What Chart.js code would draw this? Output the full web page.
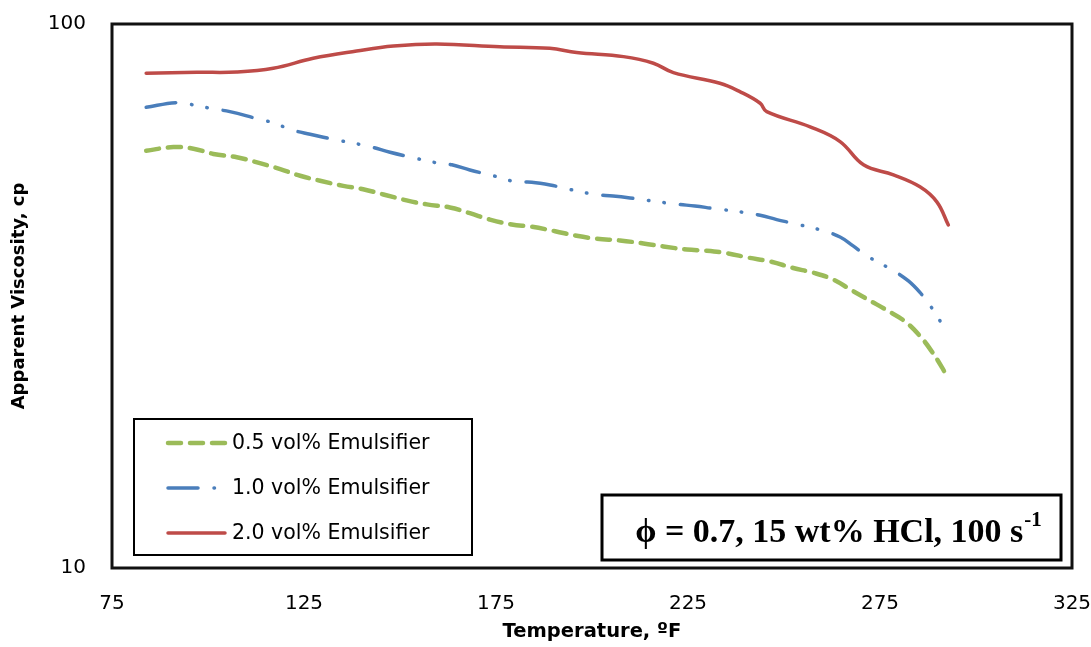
<!DOCTYPE html>
<html>
<head>
  <meta charset="utf-8">
  <title>Apparent Viscosity vs Temperature</title>
  <script src="https://cdnjs.cloudflare.com/ajax/libs/Chart.js/4.3.0/chart.umd.min.js"></script>
  <style>
    html, body { margin: 0; padding: 0; background: #fff; }
    canvas { display: block; }
  </style>
</head>
<body>
  <canvas id="chart" width="1091" height="647"></canvas>
  <script>
    // values
    var seriesNames = ['0.5 vol% Emulsifier', '1.0 vol% Emulsifier', '2.0 vol% Emulsifier'];

    var tempLow = [83.9, 91, 96.2, 101.4, 107.5, 113.5, 118.8, 124, 129.2, 135.2, 140.4, 145.7, 151.7, 157, 163, 168.2, 173.4, 179.1, 184.3, 190.4, 196, 201.2, 207.3, 213.4, 218.6, 224.7, 229.9, 235.1, 240.7, 246.4, 252.4, 257.6, 262.8, 267.6, 272.4, 276.7, 281.5, 285.4, 288.5, 291.1, 292.4];
    var viscLow = [58.5, 59.4, 59.0, 57.7, 56.9, 55.5, 54.1, 52.6, 51.5, 50.4, 49.7, 48.6, 47.4, 46.6, 46.0, 44.9, 43.7, 42.8, 42.4, 41.6, 40.8, 40.3, 40.0, 39.5, 39.0, 38.5, 38.3, 37.9, 37.2, 36.6, 35.6, 34.9, 33.9, 32.4, 31.0, 29.8, 28.4, 26.7, 25.0, 23.4, 22.5];

    var tempMid = [83.9, 91.8, 96.2, 101, 105.7, 112.7, 117.4, 121.4, 126.6, 133.5, 138.3, 142.6, 147.4, 154.3, 158.7, 163.5, 168.2, 175.2, 180, 184.3, 189.1, 195.1, 200.8, 205.5, 209.9, 217.3, 222.5, 226.8, 231.6, 239, 243.8, 248.1, 252.4, 260.2, 264.6, 268, 271.5, 278.5, 282.4, 285.4, 288, 290.2, 291.9];
    var viscMid = [70.3, 71.7, 71.0, 69.9, 69.0, 67.0, 65.7, 64.0, 62.7, 61.2, 60.3, 59.4, 58.1, 56.6, 55.7, 55.1, 53.9, 52.4, 51.3, 51.2, 50.6, 49.5, 48.6, 48.3, 47.9, 47.1, 46.6, 46.3, 45.8, 45.1, 44.5, 43.7, 43.0, 41.7, 40.6, 39.1, 37.5, 35.2, 33.7, 32.1, 30.4, 28.8, 27.4];

    var tempHigh = [83.9, 97.1, 107.5, 117, 127.4, 138.7, 148.3, 159.6, 176, 189, 196, 208.2, 216, 221.2, 233.3, 238.5, 243.8, 245.5, 256.8, 264.6, 270.7, 278.5, 285.4, 289.8, 292.8];
    var viscHigh = [81.2, 81.5, 81.6, 82.9, 86.5, 89.2, 91.1, 91.9, 90.8, 90.2, 88.6, 87.1, 84.7, 81.4, 77.8, 75.1, 71.5, 69.0, 64.7, 60.8, 55.1, 52.8, 50.2, 47.1, 42.7];

    var xTicks = [75, 125, 175, 225, 275, 325];
    var yTicks = [10, 100];
    var noteText = 'ϕ = 0.7, 15 wt% HCl, 100 s';
    var noteSup = '-1';

    function pts(xs, ys) {
      return xs.map(function (x, i) { return { x: x, y: ys[i] }; });
    }

    var styles = [
      { color: '#9BBB59', width: 4.5, dash: [13, 9] },
      { color: '#4A7EBB', width: 3.5, dash: [30, 16, 0.5, 15, 0.5, 16] },
      { color: '#BE4B48', width: 3.5, dash: [] }
    ];

    var font = '"DejaVu Sans", sans-serif';
    var serif = '"Liberation Serif", "Times New Roman", serif';

    // plot frame, legend box and the note box
    var decor = {
      id: 'decor',
      afterDatasetsDraw: function (chart) {
        var c = chart.ctx, a = chart.chartArea;
        c.save();
        c.strokeStyle = '#111';
        c.lineWidth = 3;
        c.strokeRect(a.left, a.top, a.right - a.left, a.bottom - a.top);

        // legend
        c.fillStyle = '#fff';
        c.fillRect(134, 419, 338, 136);
        c.lineWidth = 2;
        c.strokeStyle = '#000';
        c.strokeRect(134, 419, 338, 136);
        c.font = '20.5px ' + font;
        c.textBaseline = 'middle';
        c.textAlign = 'left';
        var rows = [443, 488, 533];
        for (var i = 0; i < 3; i++) {
          var s = styles[i];
          c.beginPath();
          c.strokeStyle = s.color;
          c.lineWidth = s.width;
          c.lineCap = 'round';
          c.setLineDash(s.dash);
          c.moveTo(168, rows[i]);
          c.lineTo(225, rows[i]);
          c.stroke();
          c.setLineDash([]);
          c.fillStyle = '#000';
          c.fillText(seriesNames[i], 232, rows[i] + 1);
        }

        // note box
        c.lineWidth = 3;
        c.strokeStyle = '#000';
        c.fillStyle = '#fff';
        c.fillRect(602, 495, 459, 65);
        c.strokeRect(602, 495, 459, 65);
        c.fillStyle = '#000';
        c.font = 'bold 34px ' + serif;
        var w1 = c.measureText(noteText).width;
        c.font = 'bold 21px ' + serif;
        var w2 = c.measureText(noteSup).width;
        var x0 = 838 - (w1 + w2) / 2;
        c.textBaseline = 'alphabetic';
        c.font = 'bold 34px ' + serif;
        c.fillText(noteText, x0, 542);
        c.font = 'bold 21px ' + serif;
        c.fillText(noteSup, x0 + w1 + 1, 526);
        c.restore();
      }
    };

    var datasets = [
      { data: pts(tempLow, viscLow) },
      { data: pts(tempMid, viscMid) },
      { data: pts(tempHigh, viscHigh) }
    ].map(function (d, i) {
      return {
        label: seriesNames[i],
        data: d.data,
        borderColor: styles[i].color,
        borderWidth: styles[i].width,
        borderDash: styles[i].dash,
        borderCapStyle: 'round',
        pointRadius: 0,
        tension: 0.4,
        fill: false
      };
    });

    function noPad(s) {
      s.paddingLeft = 0; s.paddingRight = 0; s.paddingTop = 0; s.paddingBottom = 0;
    }

    var ctx = document.getElementById('chart').getContext('2d');
    window.chart = new Chart(ctx, {
      type: 'line',
      data: { datasets: datasets },
      options: {
        responsive: false,
        animation: false,
        layout: { padding: { top: 24, right: 19, left: 0, bottom: 0 } },
        plugins: { legend: { display: false }, tooltip: { enabled: false } },
        scales: {
          x: {
            type: 'linear',
            min: 75,
            max: 325,
            afterBuildTicks: function (s) { s.ticks = xTicks.map(function (v) { return { value: v }; }); },
            afterFit: function (s) { s.height = 79; noPad(s); },
            grid: { display: false, drawTicks: false },
            border: { display: false },
            ticks: { color: '#000', font: { family: font, size: 20 }, padding: 24, maxRotation: 0 },
            title: { display: true, text: 'Temperature, ºF', color: '#000', font: { family: font, size: 19.5, weight: 'bold' }, padding: { top: 0, bottom: 3 } }
          },
          y: {
            type: 'logarithmic',
            min: 10,
            max: 100,
            afterBuildTicks: function (s) { s.ticks = yTicks.map(function (v) { return { value: v }; }); },
            afterFit: function (s) { s.width = 112; noPad(s); },
            grid: { display: false, drawTicks: false },
            border: { display: false },
            ticks: { color: '#000', font: { family: font, size: 20 }, padding: 26, callback: function (v) { return String(v); } },
            title: { display: true, text: 'Apparent Viscosity, cp', color: '#000', font: { family: font, size: 18, weight: 'bold' }, padding: { top: 9, bottom: 0 } }
          }
        }
      },
      plugins: [decor]
    });
  </script>
</body>
</html>
